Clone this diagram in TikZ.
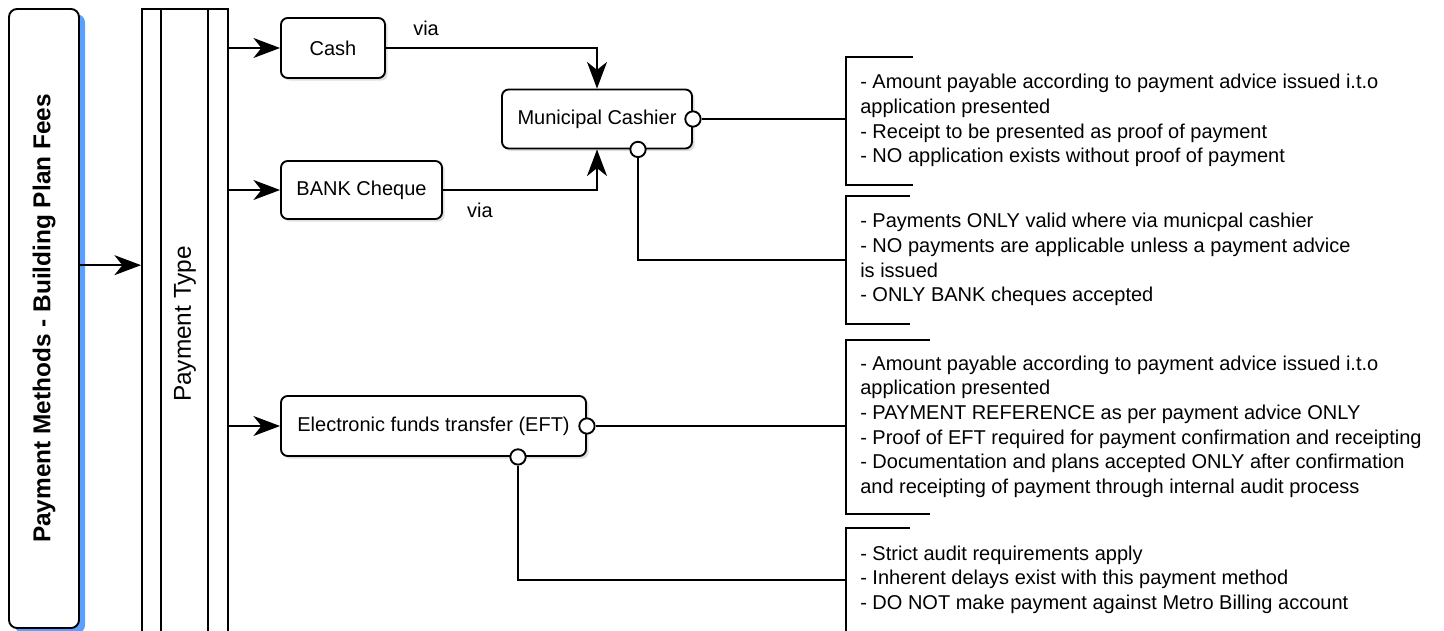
\documentclass[tikz,border=0pt]{standalone}
\usepackage{fontspec}
\setmainfont{Liberation Sans}
\usepackage{tikz}
\usetikzlibrary{shapes, arrows.meta, positioning, calc, shadows}
\definecolor{shadowblue}{RGB}{90,160,255}
\tikzset{
    base/.style={draw=black, line width=1.4pt, font=\fontsize{15}{18.4}\selectfont, align=center, inner sep=0pt},
    block/.style={base, rectangle, rounded corners=5pt, fill=white,
        drop shadow={opacity=0.25, shadow xshift=2pt, shadow yshift=-2pt}},
    titlebox/.style={base, rectangle, rounded corners=6pt, fill=white, font=\fontsize{18.3}{22}\selectfont\bfseries,
        drop shadow={fill=shadowblue, opacity=1, shadow xshift=4.5pt, shadow yshift=-4pt}},
    port/.style={draw=black, line width=1.4pt, circle, fill=white, inner sep=0pt, minimum size=11.5pt},
    note/.style={anchor=west, align=left, inner sep=0pt, font=\fontsize{15}{18.5}\selectfont},
    bracket/.style={draw=black, line width=1.4pt},
    line/.style={draw=black, line width=1.4pt, -{Stealth[length=20pt, width=15pt, inset=6pt]}},
    link/.style={draw=black, line width=1.4pt}
}
\begin{document}
\begin{tikzpicture}[x=0.75pt, y=-0.75pt]
    \useasboundingbox (0,0) rectangle (1444,631);
    % left column
    \node [titlebox, minimum width=70*0.75pt, minimum height=619*0.75pt] (Title) at (44,318.5)
        {\rotatebox{90}{Payment Methods - Building Plan Fees}};
    \node [base, rectangle, fill=white, font=\fontsize{18.3}{22}\selectfont, minimum width=86*0.75pt, minimum height=630*0.75pt] (PayType) at (185,324)
        {\rotatebox{90}{Payment Type}};
    \draw [link, line width=1.1pt] ($(PayType.north west)+(20,0)$) -- ($(PayType.south west)+(20,0)$);
    \draw [link, line width=1.1pt] ($(PayType.north east)+(-21,0)$) -- ($(PayType.south east)+(-21,0)$);

    % payment types
    \node [block, minimum width=104*0.75pt, minimum height=60*0.75pt] (Cash) at (333,48) {Cash};
    \node [block, minimum width=161*0.75pt, minimum height=58*0.75pt] (Cheque) at (361.5,190) {BANK Cheque};
    \node [block, minimum width=305*0.75pt, minimum height=60*0.75pt] (EFT) at (433.5,426) {Electronic funds transfer (EFT)};
    \node [block, minimum width=190*0.75pt, minimum height=59*0.75pt] (Cashier) at (597,119) {Municipal Cashier};

    \path [line] ([yshift=40pt]Title.east) -- ([yshift=40pt]Title.east -| PayType.west);
    \path [line] (PayType.east |- Cash.west) -- (Cash.west);
    \path [line] (PayType.east |- Cheque.west) -- (Cheque.west);
    \path [line] (PayType.east |- EFT.west) -- (EFT.west);

    \path [line] (Cash.east) -| node [pos=0.095, above=5pt, font=\fontsize{15}{18}\selectfont] {via} (Cashier.north);
    \path [line] (Cheque.east) -| node [pos=0.12, below=6pt, font=\fontsize{15}{18}\selectfont] {via} (Cashier.south);

    % notes
    \node [note, minimum height=128*0.75pt] (NoteA) at (846,121) {\hspace*{10.5pt}\begin{tabular}{@{}l@{}}
        - Amount payable according to payment advice issued i.t.o\\
        application presented\\
        - Receipt to be presented as proof of payment\\
        - NO application exists without proof of payment\end{tabular}};
    \node [note, minimum height=128*0.75pt] (NoteB) at (846,260) {\hspace*{10.5pt}\begin{tabular}{@{}l@{}}
        - Payments ONLY valid where via municpal cashier\\
        - NO payments are applicable unless a payment advice\\
        is issued\\
        - ONLY BANK cheques accepted\end{tabular}};
    \node [note, minimum height=173*0.75pt] (NoteC) at (846,427) {\hspace*{10.5pt}\begin{tabular}{@{}l@{}}
        - Amount payable according to payment advice issued i.t.o\\
        application presented\\
        - PAYMENT REFERENCE as per payment advice ONLY\\
        - Proof of EFT required for payment confirmation and receipting\\
        - Documentation and plans accepted ONLY after confirmation\\
        and receipting of payment through internal audit process\end{tabular}};
    \node [note, minimum height=103*0.75pt] (NoteD) at (846,580) {\hspace*{10.5pt}\begin{tabular}{@{}l@{}}
        - Strict audit requirements apply\\
        - Inherent delays exist with this payment method\\
        - DO NOT make payment against Metro Billing account\end{tabular}};

    \path [bracket] ($(NoteA.north west)+(67,0)$) -- (NoteA.north west) -- (NoteA.south west) -- ++(67,0);
    \path [bracket] ($(NoteB.north west)+(64,0)$) -- (NoteB.north west) -- (NoteB.south west) -- ++(64,0);
    \path [bracket] ($(NoteC.north west)+(84,0)$) -- (NoteC.north west) -- (NoteC.south west) -- ++(84,0);
    \path [bracket] ($(NoteD.north west)+(64,0)$) -- (NoteD.north west) -- (NoteD.south west) -- ++(64,0);

    % ports and links
    \node [port] (CashierE) at (Cashier.east) {};
    \node [port] (CashierS) at ($(Cashier.south)+(41,0)$) {};
    \node [port] (EFTE) at (EFT.east) {};
    \node [port] (EFTS) at ($(EFT.south)+(84.5,0)$) {};

    \path [link] (CashierE.east) -- (CashierE.east -| NoteA.west);
    \path [link] (CashierS.south) |- (NoteB.west);
    \path [link] (EFTE.east) -- (EFTE.east -| NoteC.west);
    \path [link] (EFTS.south) |- (NoteD.west);
\end{tikzpicture}
\end{document}
